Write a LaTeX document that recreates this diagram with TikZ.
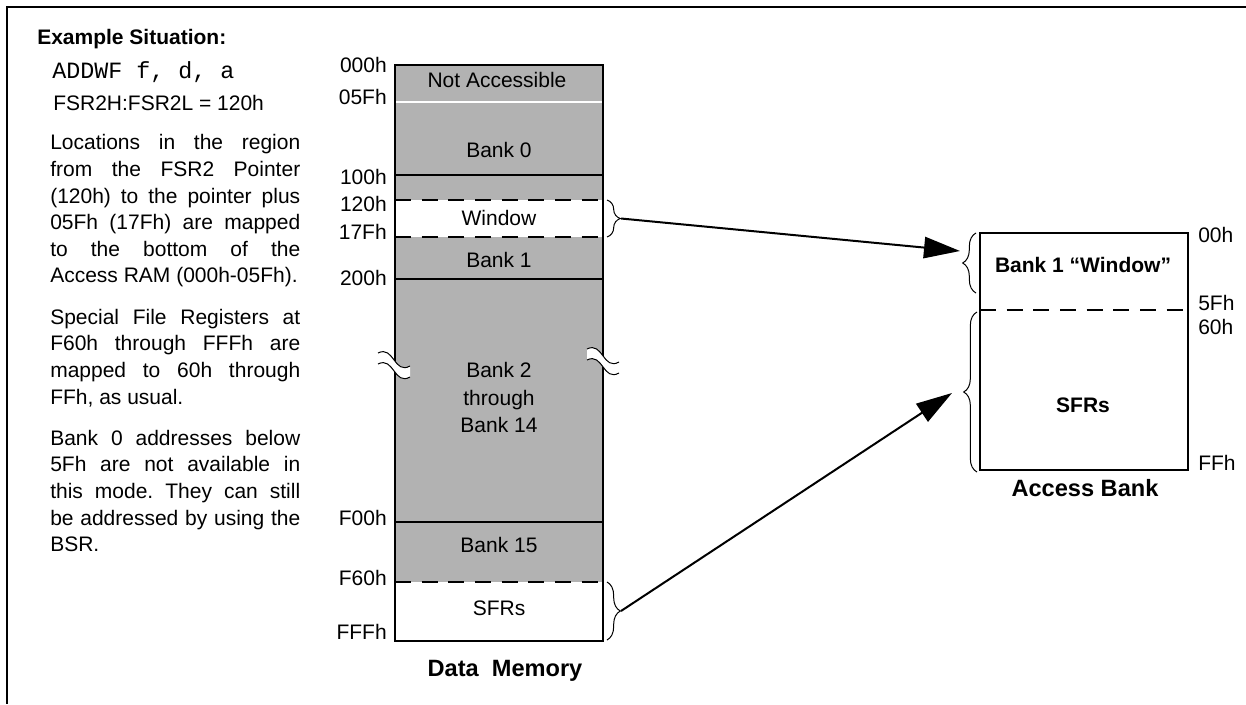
\documentclass[tikz,border=0pt]{standalone}
\usepackage{fontspec}
\setmainfont{Liberation Sans}
\newfontfamily\mymono{Liberation Mono}
\usetikzlibrary{arrows.meta,decorations.pathreplacing}
\definecolor{memgray}{RGB}{178,178,178}
\newcommand{\bodyfont}{\fontsize{15.75}{19.95}\selectfont}
\newcommand{\bigfont}{\fontsize{17.7}{21}\selectfont\bfseries}
\begin{document}
\begin{tikzpicture}[x=0.75pt,y=-0.75pt,
  txt/.style={font=\bodyfont, inner sep=0pt, text height=11.3pt, text depth=0pt},
  btxt/.style={txt, font=\bodyfont\bfseries},
  ttl/.style={inner sep=0pt, font=\bigfont, text height=12.7pt, text depth=0pt},
  thick line/.style={line width=1.5pt},
  dash line/.style={line width=1.5pt, dash pattern=on 12pt off 8pt},
  bracedeco/.style={decorate, decoration={brace, amplitude=10pt}, line width=0.75pt},
  bigarrow/.style={line width=1.5pt, -{Triangle[length=27pt,width=16pt]}},
  brk/.pic={
    \fill[white] (0,0) .. controls (16,-8) and (16,22) .. (32,13) -- (32,24) .. controls (16,33) and (16,3) .. (0,11) -- cycle;
    \draw[line width=0.75pt] (0,0) .. controls (16,-8) and (16,22) .. (32,13);
    \draw[line width=0.75pt] (0,11) .. controls (16,3) and (16,33) .. (32,24);
  }]
\useasboundingbox (0,0) rectangle (1246,704);
% frame
\draw[line width=1.6pt] (1246,7) -- (7,7) -- (7,704);

% left description
\node[btxt, anchor=west] (title) at (37,37) {Example Situation:};
\node[font=\mymono\fontsize{17.5}{20}\selectfont, inner sep=0pt, anchor=base west] (instr) at (52,78) {ADDWF f, d, a};
\node[txt, anchor=west] (fsr) at (53,103) {FSR2H:FSR2L = 120h};
\node[font=\bodyfont, inner sep=0pt, anchor=north west, text width=187.5pt, align=justify] (desc) at (50,134.5)
{\hyphenpenalty=10000\frenchspacing\setlength{\parskip}{11pt}%
Locations in the region\linebreak from the FSR2 Pointer\linebreak (120h) to the pointer plus\linebreak 05Fh (17Fh) are mapped\linebreak to the bottom of the\linebreak Access RAM (000h-05Fh).\par
Special File Registers at\linebreak F60h through FFFh are\linebreak mapped to 60h through\linebreak FFh, as usual.\par
Bank 0 addresses below\linebreak 5Fh are not available in\linebreak this mode. They can still\linebreak be addressed by using the\linebreak BSR.\par};

% data memory
\fill[memgray] (395,65) rectangle (603,641);
\fill[white] (395,200) rectangle (603,237);
\fill[white] (395,582) rectangle (603,641);
\draw[white, line width=1pt] (395,102) -- (603,102);
\draw[thick line] (395,175) -- (603,175);
\draw[thick line] (395,279) -- (603,279);
\draw[thick line] (395,522) -- (603,522);
\draw[dash line] (395,200) -- (603,200);
\draw[dash line] (395,237) -- (603,237);
\draw[dash line] (395,582) -- (603,582);
\draw[thick line] (395,65) rectangle (603,641);
\pic at (378,353) {brk};
\pic at (587,349) {brk};

\node[txt] (na) at (497,80) {Not Accessible};
\node[txt] (b0) at (499,150) {Bank 0};
\node[txt] (win) at (499,218) {Window};
\node[txt] (b1) at (499,260) {Bank 1};
\node[font=\fontsize{15.75}{20.6}\selectfont, inner sep=0pt, align=center] (b2) at (499,397.5) {Bank 2\\through\\Bank 14};
\node[txt] (b15) at (499,545) {Bank 15};
\node[txt] (sfr) at (499,608) {SFRs};
\node[ttl] (dm) at (505,668) {Data\ \ Memory};

\node[txt, anchor=east] (a000) at (387,65) {000h};
\node[txt, anchor=east] (a05f) at (387,97) {05Fh};
\node[txt, anchor=east] (a100) at (387,177) {100h};
\node[txt, anchor=east] (a120) at (387,204) {120h};
\node[txt, anchor=east] (a17f) at (387,232) {17Fh};
\node[txt, anchor=east] (a200) at (387,278) {200h};
\node[txt, anchor=east] (af00) at (387,518) {F00h};
\node[txt, anchor=east] (af60) at (387,578) {F60h};
\node[txt, anchor=east] (afff) at (387,632) {FFFh};

% access bank
\draw[thick line] (980,233) rectangle (1188,470);
\draw[dash line] (980,310) -- (1188,310);
\node[btxt] (ab1) at (1083,265) {Bank 1 “Window”};
\node[btxt] (absfr) at (1083,405) {SFRs};
\node[ttl] (abt) at (1085,488) {Access Bank};
\node[txt, anchor=west] (b00) at (1198,235) {00h};
\node[txt, anchor=west] (b5f) at (1198,303) {5Fh};
\node[txt, anchor=west] (b60) at (1198,327) {60h};
\node[txt, anchor=west] (bff) at (1198,463) {FFh};

% braces
\draw[bracedeco] (607,200) -- (607,237);
\draw[bracedeco] (607,582) -- (607,640);
\draw[bracedeco] (976,293) -- (976,233);
\draw[bracedeco] (977,472) -- (977,312);

\coordinate (wtip) at (621,218.5);
\coordinate (stip) at (621,611);
\coordinate (atop) at (960,251);
\coordinate (abot) at (952,393);
\draw[bigarrow] (wtip) -- (atop);
\draw[bigarrow] (stip) -- (abot);
\end{tikzpicture}
\end{document}
